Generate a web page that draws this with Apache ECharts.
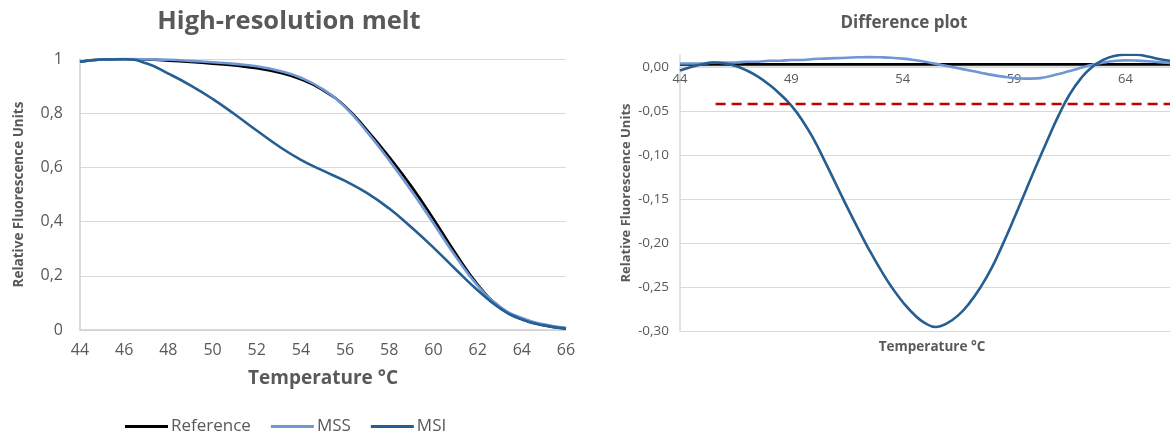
<!DOCTYPE html>
<html><head><meta charset="utf-8">
<script src="https://cdn.jsdelivr.net/npm/echarts@6/dist/echarts.min.js"></script>
<style>html,body{margin:0;padding:0;background:#fff}#c{width:1170px;height:432px}</style>
</head><body><div id="c"></div>
<script>
// ---- Left chart: high-resolution melt ----
const meltTemps = [44,45,46,47,48,49,50,51,52,53,54,55,56,57,58,59,60,61,62,63,64,65,66];
const meltReference = [0.990,0.998,1.000,0.998,0.994,0.989,0.983,0.976,0.966,0.950,0.925,0.885,0.825,0.737,0.638,0.530,0.410,0.283,0.168,0.085,0.040,0.018,0.006];
const meltMSS = [0.990,0.998,1.000,0.999,0.997,0.993,0.988,0.982,0.973,0.957,0.931,0.888,0.823,0.730,0.626,0.514,0.394,0.272,0.164,0.087,0.044,0.021,0.007];
const meltMSI = [0.990,0.998,0.999,0.984,0.946,0.903,0.853,0.796,0.736,0.678,0.628,0.588,0.550,0.505,0.448,0.379,0.304,0.224,0.147,0.081,0.039,0.017,0.005];

// ---- Right chart: difference plot ----
const diffTemps = [44,44.5,45,45.5,46,46.5,47,47.5,48,48.5,49,49.5,50,50.5,51,51.5,52,52.5,53,53.5,54,54.5,55,55.5,56,56.5,57,57.5,58,58.5,59,59.5,60,60.5,61,61.5,62,62.5,63,63.5,64,64.5,65,65.5,66];
const diffReference = [0.003,0.003,0.003,0.003,0.003,0.003,0.003,0.003,0.003,0.003,0.003,0.003,0.003,0.003,0.003,0.003,0.003,0.003,0.003,0.003,0.003,0.003,0.003,0.003,0.003,0.003,0.003,0.003,0.003,0.003,0.003,0.003,0.003,0.003,0.003,0.003,0.003,0.003,0.003,0.003,0.003,0.003,0.003,0.003,0.003];
const diffMSS = [0.004,0.004,0.004,0.005,0.005,0.005,0.006,0.006,0.007,0.007,0.008,0.008,0.009,0.0095,0.010,0.0105,0.011,0.0112,0.011,0.0105,0.0095,0.008,0.006,0.0035,0.001,-0.0015,-0.004,-0.0065,-0.009,-0.011,-0.0125,-0.0132,-0.013,-0.011,-0.008,-0.0045,-0.001,0.0025,0.005,0.0068,0.0075,0.0072,0.0065,0.0055,0.0045];
const diffMSI = [-0.004,0.000,0.003,0.005,0.004,0.001,-0.004,-0.011,-0.020,-0.031,-0.044,-0.061,-0.082,-0.107,-0.133,-0.159,-0.184,-0.208,-0.230,-0.250,-0.267,-0.281,-0.291,-0.2955,-0.291,-0.282,-0.268,-0.250,-0.228,-0.201,-0.172,-0.142,-0.112,-0.083,-0.055,-0.031,-0.013,0.000,0.008,0.0125,0.014,0.0138,0.012,0.009,0.007];
const thresholdTemps = [45.6, 66];
const thresholdValues = [-0.042, -0.042];

const seriesNames = ['Reference','MSS','MSI'];
const seriesColors = ['#000000','#6f97d6','#255e91'];

const TXT = '#595959';
const FONT = 'Open Sans';
const pairs = (xs, ys) => xs.map((x, i) => [x, ys[i]]);
const comma = (v, d) => (d == null ? String(+v.toFixed(2)) : v.toFixed(d)).replace('.', ',');

function lineSeries(name, xs, ys, color, xi, yi) {
  return {
    name: name, type: 'line', xAxisIndex: xi, yAxisIndex: yi,
    data: pairs(xs, ys), smooth: 0.5, showSymbol: false, symbol: 'none',
    lineStyle: { color: color, width: 2.6 }, itemStyle: { color: color },
    emphasis: { disabled: true }, animation: false
  };
}

const chart = echarts.init(document.getElementById('c'), null, { renderer: 'canvas' });
chart.setOption({
  animation: false,
  backgroundColor: '#ffffff',
  textStyle: { fontFamily: FONT },
  title: [
    { text: 'High-resolution melt', left: 284, top: 4, textAlign: 'center',
      textStyle: { color: TXT, fontSize: 25.5, fontWeight: 'bold', fontFamily: FONT } },
    { text: 'Difference plot', left: 899, top: 10, textAlign: 'center',
      textStyle: { color: TXT, fontSize: 17, fontWeight: 'bold', fontFamily: FONT } },
    { text: 'Temperature °C', left: 927, top: 335, textAlign: 'center',
      textStyle: { color: TXT, fontSize: 13.5, fontWeight: 'bold', fontFamily: FONT } }
  ],
  legend: {
    data: seriesNames, left: 120, top: 413, icon: 'rect', itemWidth: 43, itemHeight: 3,
    itemGap: 20, textStyle: { color: TXT, fontSize: 17, fontFamily: FONT, padding: [0,0,0,-2] }
  },
  grid: [
    { left: 80, right: 604, top: 59, bottom: 102, containLabel: false },
    { left: 680, right: -4, top: 55, bottom: 101, containLabel: false }
  ],
  xAxis: [
    { type: 'value', gridIndex: 0, min: 44, max: 66, interval: 2,
      name: 'Temperature °C', nameLocation: 'middle', nameGap: 39,
      nameTextStyle: { color: TXT, fontSize: 19, fontWeight: 'bold', fontFamily: FONT },
      axisLine: { show: true, lineStyle: { color: '#cfcfcf', width: 1.5 } },
      axisTick: { show: false }, splitLine: { show: false },
      axisLabel: { color: TXT, fontSize: 16, margin: 12, fontFamily: FONT } },
    { type: 'value', gridIndex: 1, min: 44, max: 66, interval: 5, position: 'bottom', offset: -264,
      axisLine: { show: true, onZero: false, lineStyle: { color: '#d9d9d9', width: 1.5 } },
      axisTick: { show: false }, splitLine: { show: false },
      axisLabel: { color: TXT, fontSize: 13, margin: 6, showMaxLabel: false, fontFamily: FONT } }
  ],
  yAxis: [
    { type: 'value', gridIndex: 0, min: 0, max: 1, interval: 0.2,
      name: 'Relative Fluorescence Units', nameLocation: 'middle', nameGap: 54,
      nameTextStyle: { color: TXT, fontSize: 13.5, fontWeight: 'bold', fontFamily: FONT },
      axisLine: { show: true, lineStyle: { color: '#cfcfcf', width: 1.5 } },
      axisTick: { show: false },
      splitLine: { show: true, lineStyle: { color: '#d9d9d9', width: 1.2 } },
      axisLabel: { color: TXT, fontSize: 16, margin: 17, fontFamily: FONT, formatter: v => comma(v) } },
    { type: 'value', gridIndex: 1, min: -0.3, max: 0.0136, interval: 0.05,
      name: 'Relative Fluorescence Units', nameLocation: 'middle', nameGap: 47,
      nameTextStyle: { color: TXT, fontSize: 13, fontWeight: 'bold', fontFamily: FONT },
      axisLine: { show: true, lineStyle: { color: '#d9d9d9', width: 1.5 } },
      axisTick: { show: false },
      splitLine: { show: true, showMaxLine: false, lineStyle: { color: '#d9d9d9', width: 1.2 } },
      axisLabel: { color: TXT, fontSize: 13.5, margin: 11, showMaxLabel: false, fontFamily: FONT,
        formatter: v => comma(v, 2) } }
  ],
  series: [
    lineSeries(seriesNames[0], meltTemps, meltReference, seriesColors[0], 0, 0),
    lineSeries(seriesNames[1], meltTemps, meltMSS, seriesColors[1], 0, 0),
    lineSeries(seriesNames[2], meltTemps, meltMSI, seriesColors[2], 0, 0),
    lineSeries(seriesNames[0], diffTemps, diffReference, seriesColors[0], 1, 1),
    lineSeries(seriesNames[1], diffTemps, diffMSS, seriesColors[1], 1, 1),
    lineSeries(seriesNames[2], diffTemps, diffMSI, seriesColors[2], 1, 1),
    { name: 'Threshold', type: 'line', xAxisIndex: 1, yAxisIndex: 1,
      data: pairs(thresholdTemps, thresholdValues), showSymbol: false, symbol: 'none',
      lineStyle: { color: '#c00000', width: 2.6, type: [10, 6] }, emphasis: { disabled: true } }
  ]
});
</script></body></html>
